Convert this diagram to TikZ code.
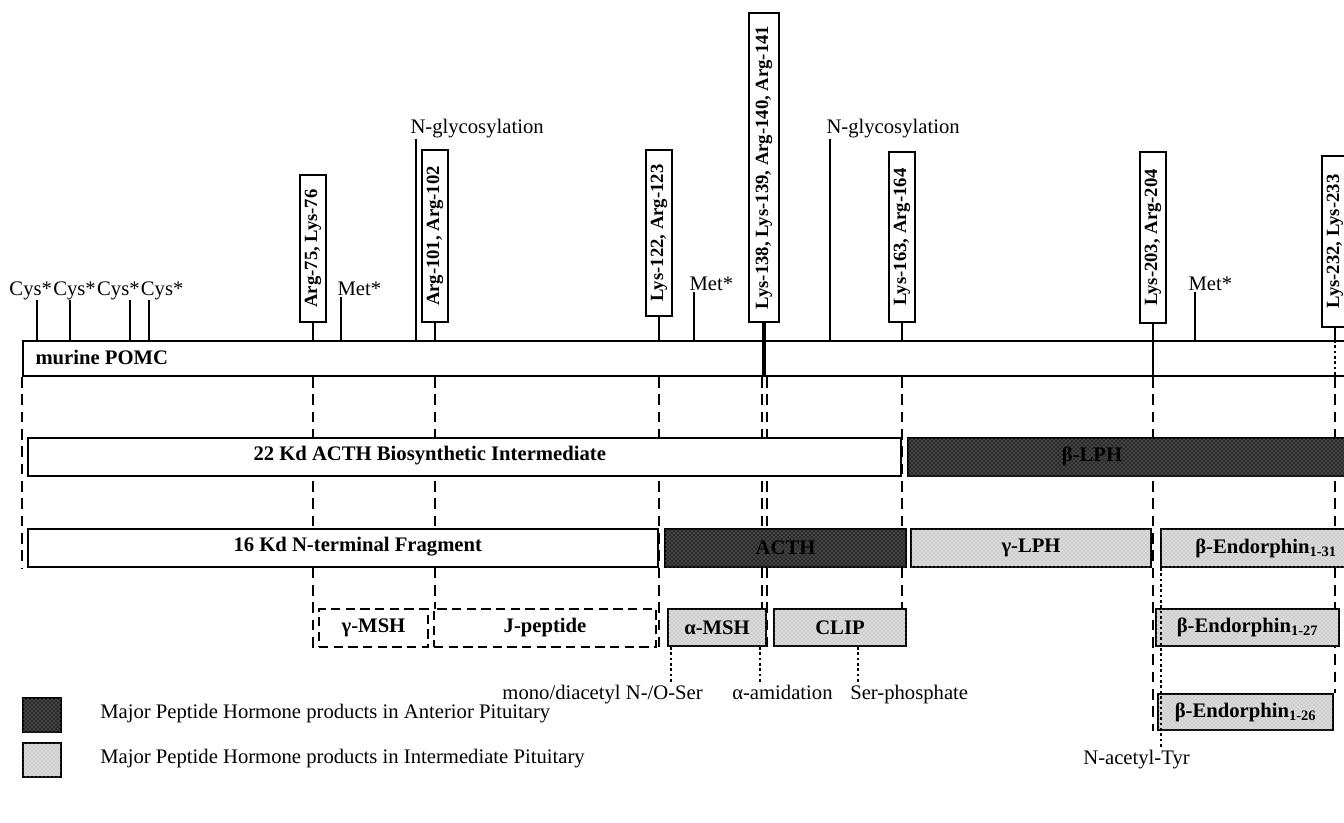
\documentclass[tikz,border=0pt]{standalone}
\usepackage{fontspec}
\setmainfont{Liberation Serif}
\usetikzlibrary{patterns}
\newdimen\unitpx
\unitpx=0.75pt
\definecolor{darkgrain}{gray}{0.16}
\definecolor{lightgrain}{gray}{0.86}
\pgfdeclarelayer{background}
\pgfsetlayers{background,main}
\tikzset{every picture/.style={line width=0.75pt}}
\tikzset{
  lbl/.style={font=\fontsize{15.5}{18}\selectfont, inner sep=0pt},
  bartxt/.style={font=\bfseries\fontsize{15.5}{18}\selectfont, inner sep=0pt},
  boxsize/.style 2 args={minimum width=#1\unitpx, minimum height=#2\unitpx},
  barbox/.style={draw, line width=1.5, anchor=north west, inner sep=0pt, font=\bfseries\fontsize{15.5}{18}\selectfont},
  plainbar/.style={barbox, fill=white},
  darkbar/.style={barbox, fill=darkgrain, postaction={pattern=crosshatch dots, pattern color=gray!70}},
  lightbar/.style={barbox, fill=lightgrain, postaction={pattern=crosshatch dots, pattern color=gray!75}},
  dashbar/.style={barbox, fill=white, dash pattern=on 7pt off 4pt},
  sitebox/.style={draw, line width=1.5, fill=white, rotate=90, inner sep=0pt, minimum height=26\unitpx, font=\bfseries\fontsize{14}{16}\selectfont},
  sitelen/.style={minimum width=#1\unitpx},
  tick/.style={line width=1.5},
  cut/.style={line width=1.5, dash pattern=on 8pt off 5pt},
  dotcut/.style={line width=1.5, dash pattern=on 2pt off 2pt},
}

\begin{document}
\begin{tikzpicture}[x=0.75pt,y=0.75pt,yscale=-1,xscale=1]
\useasboundingbox (0,0) rectangle (1344,823);
\clip (0,0) rectangle (1344,823);

%Shape: POMC bar
\node[plainbar, boxsize={1360}{35}] (pomc) at (22,340) {};
\node[bartxt, anchor=west] (pomclbl) at (35,357.5) {murine POMC};

%Shape: first cleavage row
\node[plainbar, boxsize={873}{38}] (acthint) at (27,437) {};
\node[bartxt, anchor=west] (acthintlbl) at (253,456) {22 Kd ACTH Biosynthetic Intermediate};
\node[darkbar, boxsize={463}{38}] (blph) at (907,437) {};
\node[bartxt] (blphlbl) at (1092,456) {β-LPH};

%Shape: second cleavage row
\node[plainbar, boxsize={630}{38}] (nterm) at (27,528) {};
\node[bartxt, anchor=west] (ntermlbl) at (233,547) {16 Kd N-terminal Fragment};
\node[darkbar, boxsize={241}{38}] (acth) at (664,528) {ACTH};
\node[lightbar, boxsize={240}{38}] (glph) at (910,528) {γ-LPH};
\node[lightbar, boxsize={210}{38}] (bend31) at (1160,528) {β-Endorphin\textsubscript{1-31}};

%Shape: third cleavage row
\node[dashbar, boxsize={109}{38}] (gmsh) at (318,608) {γ-MSH};
\node[dashbar, boxsize={222}{38}] (jpep) at (433,608) {J-peptide};
\node[lightbar, boxsize={98}{37}] (amsh) at (667,608) {α-MSH};
\node[lightbar, boxsize={132}{37}] (clip) at (773,608) {CLIP};
\node[lightbar, boxsize={183}{37}] (bend27) at (1155,608) {β-Endorphin\textsubscript{1-27}};

%Shape: fourth row
\node[lightbar, boxsize={175}{36}] (bend26) at (1157,693) {β-Endorphin\textsubscript{1-26}};

%Shape: cleavage sites
\node[sitebox, sitelen=147] (s75) at (313,248.5) {Arg-75, Lys-76};
\node[sitebox, sitelen=172] (s101) at (435,236) {Arg-101, Arg-102};
\node[sitebox, sitelen=166] (s122) at (659,233) {Lys-122, Arg-123};
\node[sitebox, sitelen=309, minimum height=30\unitpx] (s138) at (764,167.5) {Lys-138, Lys-139, Arg-140, Arg-141};
\node[sitebox, sitelen=170] (s163) at (902,237) {Lys-163, Arg-164};
\node[sitebox, sitelen=171] (s203) at (1153,237.5) {Lys-203, Arg-204};
\node[sitebox, sitelen=171] (s232) at (1335,241.5) {Lys-232, Lys-233};

% Text Node
\node[lbl, anchor=base west] (cys) at (9,296) {Cys*\kern1pt Cys*\kern1pt Cys*\kern1pt Cys*};
\node[lbl, anchor=base west] (met1) at (337,296) {Met*};
\node[lbl, anchor=base west] (met2) at (689,291) {Met*};
\node[lbl, anchor=base west] (met3) at (1188,291) {Met*};
\node[lbl, anchor=base west] (glyc1) at (410,134) {N-glycosylation};
\node[lbl, anchor=base west] (glyc2) at (826,134) {N-glycosylation};

%Straight Lines: residue ticks
\foreach \cx in {37,70,130,149}
  \draw[tick] (\cx,340) -- ++(0,-40);
\draw[tick] ([xshift=4\unitpx]met1.south west) -- ([xshift=4\unitpx]met1.south west |- pomc.north);
\draw[tick] ([xshift=5\unitpx]met2.south west) -- ([xshift=5\unitpx]met2.south west |- pomc.north);
\draw[tick] ([xshift=7\unitpx]met3.south west) -- ([xshift=7\unitpx]met3.south west |- pomc.north);
\draw[tick] ([xshift=6\unitpx]glyc1.south west) -- ([xshift=6\unitpx]glyc1.south west |- pomc.north);
\draw[tick] ([xshift=4\unitpx]glyc2.south west) -- ([xshift=4\unitpx]glyc2.south west |- pomc.north);

%Straight Lines: sites to POMC
\foreach \s in {s75,s101,s122,s163}
  \draw[tick] (\s.west) -- (\s.west |- pomc.north);
\draw[line width=3] (s138.west) -- (s138.west |- pomc.south);
\draw[tick] (s203.west) -- (s203.west |- pomc.south);
\draw[tick] (s232.west) -- (s232.west |- pomc.north);
\draw[dotcut] (s232.west |- pomc.north) -- (s232.west |- pomc.south);

%Straight Lines: cleavage guides
\begin{pgfonlayer}{background}
\draw[cut] (pomc.south west) -- (pomc.south west |- nterm.south);
\draw[cut] (s75.west |- pomc.south) -- (s75.west |- gmsh.south);
\draw[cut] (s101.west |- pomc.south) -- (s101.west |- gmsh.south);
\draw[cut] (s122.west |- pomc.south) -- (s122.west |- amsh.south);
\draw[cut] ([xshift=-2.5\unitpx]s138.west |- pomc.south) -- ([xshift=-2.5\unitpx]s138.west |- amsh.south);
\draw[cut] ([xshift=2.5\unitpx]s138.west |- pomc.south) -- ([xshift=2.5\unitpx]s138.west |- amsh.south);
\draw[cut] (s163.west |- pomc.south) -- (s163.west |- clip.south);
\draw[cut] (s203.west |- pomc.south) -- (s203.west |- bend26.south);
\draw[cut] (s232.west |- pomc.south) -- (s232.west |- bend26.north);
\end{pgfonlayer}

%Straight Lines: modifications
\draw[dotcut] ([xshift=4\unitpx]amsh.south west) -- ++(0,35);
\draw[dotcut] ([xshift=-7\unitpx]amsh.south east) -- ++(0,35);
\draw[dotcut] ([xshift=85\unitpx]clip.south west) -- ++(0,35);
\draw[dotcut] ([xshift=1\unitpx]bend31.south west) -- ++(0,179);

% Text Node
\node[lbl, anchor=base east] (monolbl) at (703,699) {mono/diacetyl N-/O-Ser};
\node[lbl, anchor=base west] (amidlbl) at (732,699) {α-amidation};
\node[lbl, anchor=base west] (serplbl) at (850,699) {Ser-phosphate};
\node[lbl, anchor=base east] (acetyllbl) at (1190,764) {N-acetyl-Tyr};

%Shape: key
\node[darkbar, boxsize={38}{34}] (keyant) at (22,697) {};
\node[lbl, anchor=west] (keyanttxt) at (100,714) {Major Peptide Hormone products in Anterior Pituitary};
\node[lightbar, boxsize={38}{34}] (keyint) at (22,742) {};
\node[lbl, anchor=west] (keyinttxt) at (100,759) {Major Peptide Hormone products in Intermediate Pituitary};

\end{tikzpicture}
\end{document}
